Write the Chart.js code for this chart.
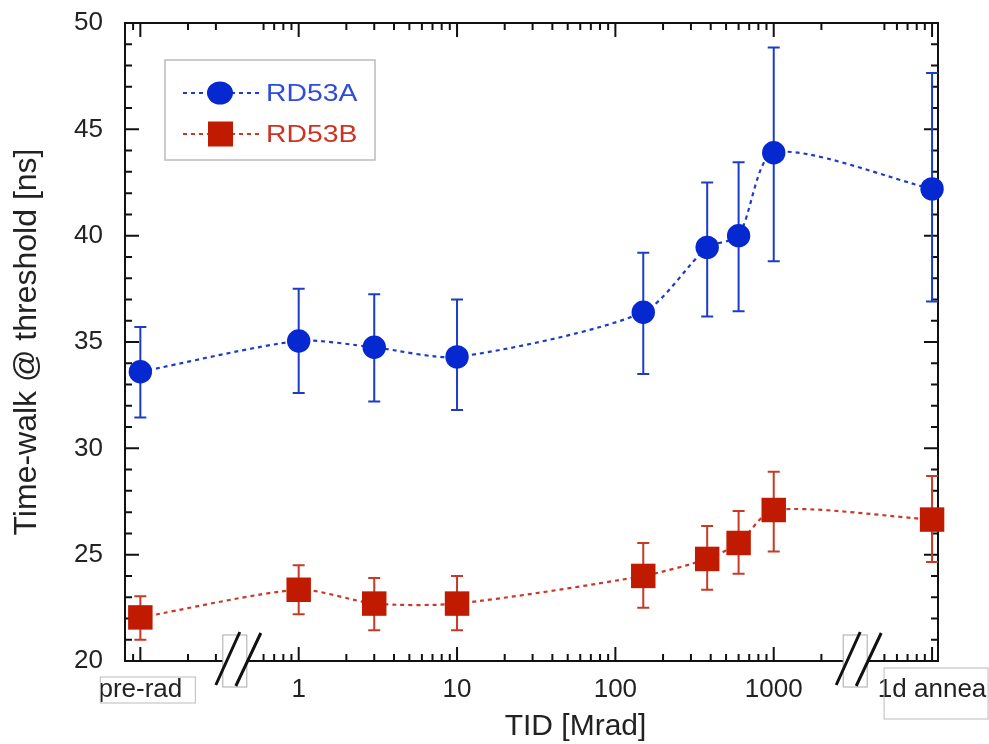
<!DOCTYPE html>
<html>
<head>
<meta charset="utf-8">
<script src="https://cdn.jsdelivr.net/npm/chart.js@4.4.0/dist/chart.umd.min.js"></script>
<style>
  body { margin: 0; background: #fff; }
  #wrap { width: 989px; height: 744px; position: relative; }
</style>
</head>
<body>
<div id="wrap"><canvas id="myChart"></canvas></div>
<script>
// dose points in Mrad (0.1 = pre-rad, 10000 = 1d anneal)
const dose = [0.1, 1, 3, 10, 150, 380, 600, 1000, 10000];
// RD53A time-walk [ns] and error bar limits
const rd53a = [33.6, 35.05, 34.75, 34.3, 36.4, 39.45, 40.0, 43.9, 42.2];
const rd53aLow = [31.45, 32.6, 32.2, 31.8, 33.5, 36.2, 36.45, 38.8, 36.9];
const rd53aHigh = [35.7, 37.5, 37.25, 37.0, 39.2, 42.5, 43.45, 48.85, 47.65];
// RD53B
const rd53b = [22.05, 23.35, 22.7, 22.7, 24.0, 24.8, 25.55, 27.1, 26.65];
const rd53bLow = [21.0, 22.2, 21.45, 21.45, 22.5, 23.35, 24.1, 25.15, 24.65];
const rd53bHigh = [23.05, 24.5, 23.9, 24.0, 25.55, 26.35, 27.05, 28.9, 28.7];
const seriesNames = ['RD53A', 'RD53B'];

// x axis ticks
const majorTicks = [0.1, 1, 10, 100, 1000, 10000];
const majorLabels = ['pre-rad', '1', '10', '100', '1000', '1d annea'];
const minorTicks = [0.09, 0.2, 0.3, 0.6, 0.7, 0.8, 0.9,
  2, 3, 4, 5, 6, 7, 8, 9, 20, 30, 40, 50, 60, 70, 80, 90,
  200, 300, 400, 500, 600, 700, 800, 900, 2000, 5000, 6000, 7000, 8000, 9000];
// axis breaks (doses where the // marks sit)
const axisBreaks = [0.395, 3270];
const xTitle = 'TID [Mrad]';

const blue = '#0528d0';
const blueBar = '#1c3cc8';
const red = '#c01a00';
const redBar = '#c63a26';
const font = '"Liberation Sans", Arial, sans-serif';

const points = (vals) => dose.map((d, i) => ({x: d, y: vals[i]}));

// frame, inward ticks and error bars, under the markers
const frameAndBars = {
  id: 'frameAndBars',
  beforeDatasetsDraw(chart) {
    const {ctx, chartArea: a, scales: {x, y}} = chart;
    ctx.save();
    ctx.strokeStyle = '#111';
    ctx.lineWidth = 2;
    ctx.beginPath();
    x.ticks.forEach(t => {
      const px = x.getPixelForValue(t.value);
      const len = t.major ? 14 : 7;
      ctx.moveTo(px, a.bottom); ctx.lineTo(px, a.bottom - len);
      ctx.moveTo(px, a.top); ctx.lineTo(px, a.top + len);
    });
    y.ticks.forEach(t => {
      const py = y.getPixelForValue(t.value);
      const len = t.value % 5 === 0 ? 14 : 7;
      ctx.moveTo(a.left, py); ctx.lineTo(a.left + len, py);
      ctx.moveTo(a.right, py); ctx.lineTo(a.right - len, py);
    });
    ctx.stroke();
    ctx.strokeRect(a.left, a.top, a.right - a.left, a.bottom - a.top);

    const bars = [[rd53aLow, rd53aHigh, blueBar], [rd53bLow, rd53bHigh, redBar]];
    bars.forEach(([lo, hi, col]) => {
      ctx.strokeStyle = col;
      ctx.lineWidth = 2;
      ctx.beginPath();
      dose.forEach((d, i) => {
        const px = x.getPixelForValue(d);
        const p1 = y.getPixelForValue(lo[i]);
        const p2 = y.getPixelForValue(hi[i]);
        ctx.moveTo(px, p1); ctx.lineTo(px, p2);
        ctx.moveTo(px - 6, p1); ctx.lineTo(px + 6, p1);
        ctx.moveTo(px - 6, p2); ctx.lineTo(px + 6, p2);
      });
      ctx.stroke();
    });
    ctx.restore();
  },
  afterDraw(chart) {
    const {ctx, chartArea: a, scales: {x}} = chart;
    ctx.save();
    // axis breaks
    axisBreaks.forEach(b => {
      const cx = x.getPixelForValue(b);
      const cy = a.bottom;
      ctx.fillStyle = '#fff';
      ctx.fillRect(cx - 12, cy - 26, 24, 52);
      ctx.strokeStyle = '#aaa';
      ctx.lineWidth = 1;
      ctx.strokeRect(cx - 12, cy - 26, 24, 52);
      ctx.strokeStyle = '#111';
      ctx.lineWidth = 3;
      ctx.beginPath();
      ctx.moveTo(cx - 19, cy + 24); ctx.lineTo(cx + 5, cy - 29);
      ctx.moveTo(cx + 1, cy + 25); ctx.lineTo(cx + 26, cy - 28);
      ctx.stroke();
    });
    // boxes round the pre-rad and anneal labels
    ctx.strokeStyle = '#bbb';
    ctx.lineWidth = 1;
    const p0 = x.getPixelForValue(majorTicks[0]);
    ctx.strokeRect(p0 - 40, a.bottom + 16, 95, 26);
    const p1 = x.getPixelForValue(majorTicks[majorTicks.length - 1]);
    ctx.strokeRect(p1 - 48, a.bottom + 7, 104, 51);

    // x title, sits right of the plot centre like in the original
    ctx.fillStyle = '#222';
    ctx.font = '30px ' + font;
    ctx.textAlign = 'center';
    ctx.textBaseline = 'alphabetic';
    ctx.fillText(xTitle, (a.left + a.right) / 2 + 44, a.bottom + 74);
    ctx.textAlign = 'left';

    // legend
    ctx.strokeStyle = '#bbb';
    ctx.lineWidth = 1.5;
    ctx.strokeRect(165, 60, 210, 100);
    const rows = [[blue, blueBar, 'circle', 93, '#2f4bdc'], [red, redBar, 'rect', 134, '#cc3422']];
    rows.forEach(([col, lineCol, style, ly, textCol], i) => {
      ctx.strokeStyle = lineCol;
      ctx.lineWidth = 2.2;
      ctx.setLineDash([4, 4]);
      ctx.beginPath();
      ctx.moveTo(183, ly); ctx.lineTo(260, ly);
      ctx.stroke();
      ctx.setLineDash([]);
      ctx.fillStyle = col;
      if (style === 'circle') {
        ctx.beginPath();
        ctx.ellipse(220, ly, 13, 11.5, 0, 0, Math.PI * 2);
        ctx.fill();
      } else {
        ctx.fillRect(208, ly - 12.5, 25, 25);
      }
      ctx.save();
      ctx.translate(266, ly);
      ctx.scale(1.18, 1);
      ctx.fillStyle = textCol;
      ctx.font = '24px ' + font;
      ctx.textBaseline = 'middle';
      ctx.fillText(seriesNames[i], 0, 1);
      ctx.restore();
    });
    ctx.restore();
  }
};

var ctx = document.getElementById('myChart');
var myChart = new Chart(ctx, {
  type: 'line',
  data: {
    datasets: [{
      label: seriesNames[0],
      data: points(rd53a),
      borderColor: blueBar,
      borderWidth: 2.2,
      borderDash: [4, 4],
      backgroundColor: blue,
      pointStyle: 'circle',
      pointRadius: 11.7,
      pointHoverRadius: 11.7,
      pointBackgroundColor: blue,
      pointBorderColor: blue,
      pointBorderWidth: 0,
      tension: 0.25,
      fill: false,
      clip: false
    }, {
      label: seriesNames[1],
      data: points(rd53b),
      borderColor: redBar,
      borderWidth: 2.2,
      borderDash: [4, 4],
      backgroundColor: red,
      pointStyle: 'rect',
      pointRadius: 17.3,
      pointHoverRadius: 17.3,
      pointBackgroundColor: red,
      pointBorderColor: red,
      pointBorderWidth: 0,
      tension: 0.25,
      fill: false,
      clip: false
    }]
  },
  options: {
    responsive: true,
    maintainAspectRatio: false,
    animation: false,
    events: [],
    layout: { padding: { top: 23, right: 51, left: 0, bottom: 0 } },
    plugins: { legend: { display: false }, tooltip: { enabled: false } },
    scales: {
      x: {
        type: 'logarithmic',
        min: 0.08,
        max: 10900,
        grid: { display: false, drawTicks: false, tickLength: 0 },
        border: { display: false },
        afterBuildTicks: (scale) => {
          const list = majorTicks.map(v => ({value: v, major: true}))
            .concat(minorTicks.map(v => ({value: v, major: false})));
          scale.ticks = list.sort((p, q) => p.value - q.value);
        },
        afterFit: (scale) => {
          scale.height = 83;
          scale.paddingLeft = 0;
          scale.paddingRight = 0;
        },
        ticks: {
          autoSkip: false,
          maxRotation: 0,
          padding: 13,
          color: '#222',
          font: { family: font, size: 26 },
          callback: (value) => {
            const i = majorTicks.indexOf(value);
            return i >= 0 ? majorLabels[i] : '';
          }
        },
        title: { display: false }
      },
      y: {
        min: 20,
        max: 50,
        grid: { display: false, drawTicks: false, tickLength: 0 },
        border: { display: false },
        afterFit: (scale) => {
          scale.width = 125;
          scale.paddingTop = 0;
          scale.paddingBottom = 0;
        },
        ticks: {
          stepSize: 1,
          autoSkip: false,
          padding: 22,
          color: '#222',
          font: { family: font, size: 26 },
          callback: (value) => value % 5 === 0 ? value : ''
        },
        title: {
          display: true,
          text: 'Time-walk @ threshold [ns]',
          color: '#222',
          padding: { top: 8, bottom: 0 },
          font: { family: font, size: 32 }
        }
      }
    }
  },
  plugins: [frameAndBars]
});
</script>
</body>
</html>
